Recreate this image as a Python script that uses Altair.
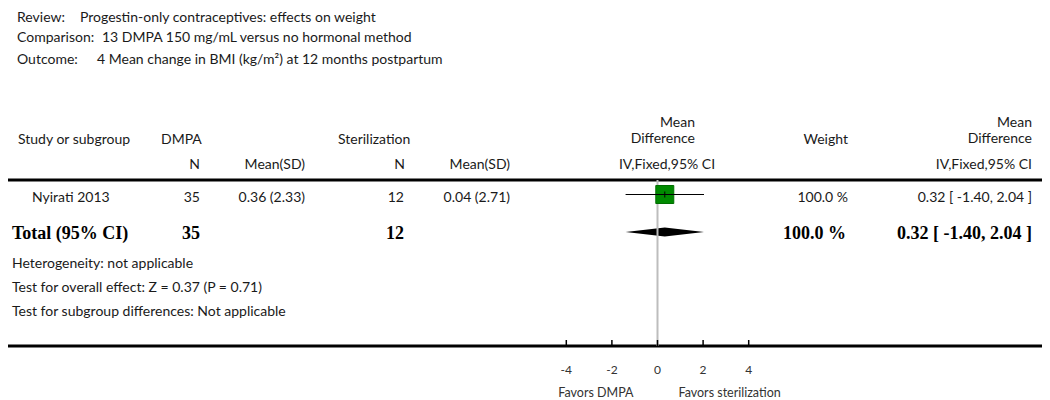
import altair as alt
import pandas as pd

# ---------------- data ----------------
review = "Progestin-only contraceptives: effects on weight"
comparison = "13 DMPA 150 mg/mL versus no hormonal method"
outcome = "4 Mean change in BMI (kg/m\u00b2) at 12 months postpartum"

studies = ["Nyirati 2013"]
dmpa_n = [35]
dmpa_mean = [0.36]
dmpa_sd = [2.33]
ster_n = [12]
ster_mean = [0.04]
ster_sd = [2.71]
md = [0.32]
ci_lo = [-1.40]
ci_hi = [2.04]
weights = [100.0]

total_label = "Total (95% CI)"
total_dmpa_n = 35
total_ster_n = 12
total_md = 0.32
total_lo = -1.40
total_hi = 2.04
total_weight = 100.0

heterogeneity = "Heterogeneity: not applicable"
overall_effect = "Test for overall effect: Z = 0.37 (P = 0.71)"
subgroup_diff = "Test for subgroup differences: Not applicable"

tick_values = [-4, -2, 0, 2, 4]
tick_labels = ["-4", "-2", "0", "2", "4"]
favors_left = "Favors DMPA"
favors_right = "Favors sterilization"

# ---------------- layout ----------------
W, H = 1034, 392
ZERO_PX = 649.5
PX_PER_UNIT = 22.8
xs = alt.Scale(domain=[-ZERO_PX / PX_PER_UNIT, (W - ZERO_PX) / PX_PER_UNIT],
               range=[0, W], nice=False, zero=False)
ys = alt.Scale(domain=[0, H], range=[0, H], nice=False, zero=False)

SANS = "Lato"
SERIF = "Liberation Serif"
INK = "#1a1a1a"

HEAD_LINE_Y = 172
AXIS_Y = 338
ROW_Y = 190
MARK_Y = 186.5
TOTAL_Y = 226
DIAMOND_Y = 224

layers = []


def txt(s, x, y, align="left", font=SANS, size=14, weight="normal", color=INK):
    return alt.Chart(pd.DataFrame({"t": [s]})).mark_text(
        align=align, baseline="middle", font=font, fontSize=size,
        fontWeight=weight, color=color
    ).encode(x=alt.value(x), y=alt.value(y), text="t:N")


def hline(y, width=3):
    return alt.Chart(pd.DataFrame({"a": [0]})).mark_rule(
        color="black", strokeWidth=width
    ).encode(x=alt.value(0), x2=alt.value(W), y=alt.value(y))


# header block
layers += [
    txt("Review:", 9, 10), txt(review, 72, 10),
    txt("Comparison:", 9, 30), txt(comparison, 94, 30),
    txt("Outcome:", 9, 52), txt(outcome, 89, 52),
]

# column headers
layers += [
    txt("Study or subgroup", 10, 132),
    txt("DMPA", 153, 132),
    txt("N", 192, 157, "right"),
    txt("Mean(SD)", 297, 157, "right"),
    txt("Sterilization", 330, 132),
    txt("N", 397, 157, "right"),
    txt("Mean(SD)", 502, 157, "right"),
    txt("Mean", 687, 115, "right"),
    txt("Difference", 687, 131, "right"),
    txt("IV,Fixed,95% CI", 659, 157, "center"),
    txt("Weight", 840, 132, "right"),
    txt("Mean", 1024, 115, "right"),
    txt("Difference", 1024, 131, "right"),
    txt("IV,Fixed,95% CI", 1024, 157, "right"),
]

# study rows
for i, s in enumerate(studies):
    y = ROW_Y + i * 26
    layers += [
        txt(s, 24, y),
        txt(f"{dmpa_n[i]}", 192, y, "right"),
        txt(f"{dmpa_mean[i]:.2f} ({dmpa_sd[i]:.2f})", 297, y, "right"),
        txt(f"{ster_n[i]}", 396, y, "right"),
        txt(f"{ster_mean[i]:.2f} ({ster_sd[i]:.2f})", 502, y, "right"),
        txt(f"{weights[i]:.1f} %", 840, y, "right"),
        txt(f"{md[i]:.2f} [ {ci_lo[i]:.2f}, {ci_hi[i]:.2f} ]", 1024, y, "right"),
    ]

# total row
layers += [
    txt(total_label, 4, TOTAL_Y, font=SERIF, size=18, weight="bold", color="black"),
    txt(f"{total_dmpa_n}", 192, TOTAL_Y, "right", SERIF, 18, "bold", "black"),
    txt(f"{total_ster_n}", 396, TOTAL_Y, "right", SERIF, 18, "bold", "black"),
    txt(f"{total_weight:.1f} %", 838, TOTAL_Y, "right", SERIF, 18, "bold", "black"),
    txt(f"{total_md:.2f} [ {total_lo:.2f}, {total_hi:.2f} ]", 1024, TOTAL_Y,
        "right", SERIF, 18, "bold", "black"),
    txt(heterogeneity, 4, 256),
    txt(overall_effect, 4, 280),
    txt(subgroup_diff, 4, 304),
]

# lines
layers += [hline(HEAD_LINE_Y), hline(AXIS_Y)]

# diamond for total
dia = pd.DataFrame({
    "x": [total_lo, total_md, total_hi],
    "y": [DIAMOND_Y, DIAMOND_Y - 4.5, DIAMOND_Y],
    "y2": [DIAMOND_Y, DIAMOND_Y + 4.5, DIAMOND_Y],
})
layers.append(alt.Chart(dia).mark_area(color="black", orient="vertical").encode(
    x=alt.X("x:Q", scale=xs, axis=None),
    y=alt.Y("y:Q", scale=ys, axis=None),
    y2="y2:Q",
))

# zero line
layers.append(alt.Chart(pd.DataFrame({"v": [0]})).mark_rule(
    color="#bdbdbd", strokeWidth=2
).encode(x=alt.X("v:Q", scale=xs, axis=None),
         y=alt.value(HEAD_LINE_Y), y2=alt.value(AXIS_Y)))

# study squares and CIs
sdf = pd.DataFrame({"md": md, "lo": ci_lo, "hi": ci_hi, "w": weights})
layers.append(alt.Chart(sdf).mark_square(
    size=324, filled=True, color="#008a00", stroke="#006e00", strokeWidth=1,
    opacity=1
).encode(x=alt.X("md:Q", scale=xs, axis=None), y=alt.value(MARK_Y)))
layers.append(alt.Chart(sdf).mark_rule(color="black", strokeWidth=1).encode(
    x=alt.X("lo:Q", scale=xs, axis=None), x2="hi:Q", y=alt.value(MARK_Y)))
layers.append(alt.Chart(sdf).mark_rule(color="black", strokeWidth=1).encode(
    x=alt.X("md:Q", scale=xs, axis=None),
    y=alt.value(MARK_Y - 3), y2=alt.value(MARK_Y + 3)))

# axis ticks and labels
tdf = pd.DataFrame({"v": tick_values, "lab": tick_labels})
layers.append(alt.Chart(tdf).mark_rule(color="black", strokeWidth=1.5).encode(
    x=alt.X("v:Q", scale=xs, axis=None),
    y=alt.value(AXIS_Y - 6), y2=alt.value(AXIS_Y)))
layers.append(alt.Chart(tdf).mark_text(
    font=SANS, fontSize=12, color="#333333", baseline="middle"
).encode(x=alt.X("v:Q", scale=xs, axis=None), y=alt.value(362), text="lab:N"))

fdf = pd.DataFrame({"v": [0], "l": [favors_left], "r": [favors_right]})
layers.append(alt.Chart(fdf).mark_text(
    font=SANS, fontSize=12.5, color="#333333", align="right", baseline="middle", dx=-24
).encode(x=alt.X("v:Q", scale=xs, axis=None), y=alt.value(385), text="l:N"))
layers.append(alt.Chart(fdf).mark_text(
    font=SANS, fontSize=12.5, color="#333333", align="left", baseline="middle", dx=21
).encode(x=alt.X("v:Q", scale=xs, axis=None), y=alt.value(385), text="r:N"))

chart = alt.layer(*layers).properties(
    width=W, height=H, padding=0,
    autosize=alt.AutoSizeParams(type="none"),
    background="white",
).configure_view(stroke=None)

chart.save("out.html", embed_options={"renderer": "svg", "actions": False})
